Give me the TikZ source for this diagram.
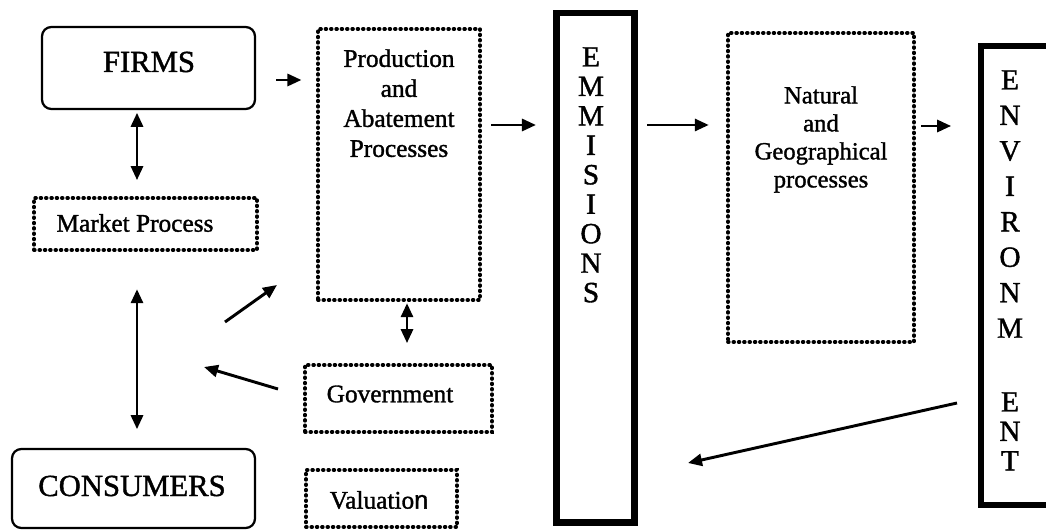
\documentclass[tikz,border=0pt]{standalone}
\usepackage{fontspec}
\setmainfont[FakeBold=1.3]{Liberation Serif}
\newfontfamily\sansn[FakeBold=1.3]{Liberation Sans}
\usetikzlibrary{arrows.meta,fit}
\begin{document}
\begin{tikzpicture}[x=0.75pt,y=-0.75pt,
  solidbox/.style={draw, line width=1.7pt, rounded corners=7pt, inner sep=0pt},
  dotbox/.style={draw, line width=2.8pt, dash pattern=on 0.6pt off 3.4pt, line cap=round, inner sep=0pt},
  thickbox/.style={draw, line width=4.8pt, inner sep=0pt},
  tip/.tip={Triangle[length=10.5pt,width=9pt]},
  conn/.style={line width=2.2pt, -tip},
  dconn/.style={line width=2.2pt, tip-tip},
  big/.style={font=\fontsize{23}{27}\selectfont, inner sep=0pt},
  mid/.style={font=\fontsize{19}{22.5}\selectfont, inner sep=0pt, align=center},
  small/.style={font=\fontsize{18.5}{21}\selectfont, inner sep=0pt, align=center},
  vert/.style={font=\fontsize{22}{22.1}\selectfont, inner sep=0pt, align=center, anchor=north}
]
\useasboundingbox (0,0) rectangle (1046,530);
\clip (0,0) rectangle (1046,530);

% boxes
\node[solidbox, fit={(42,27) (255,109)}] (firms) {};
\node[big] (firmstext) at (149,62) {FIRMS};
\node[dotbox, fit={(34,198) (257,250)}] (market) {};
\node[mid] (markettext) at (135,223) {Market Process};
\node[solidbox, fit={(12,449) (255,528)}] (cons) {};
\node[big] (constext) at (132,486) {CONSUMERS};
\node[dotbox, fit={(318,29) (480,300)}] (prod) {};
\node[mid, anchor=north] (prodtext) at (399,49) {Production\\and\\Abatement\\Processes};
\node[dotbox, fit={(305,365) (492,432)}] (gov) {};
\node[mid] (govtext) at (390,394) {Government};
\node[dotbox, fit={(306,470) (457,527)}] (val) {};
\node[mid] (valtext) at (379,500) {Valuatio{\sansn n}};
\node[thickbox, fit={(556.5,13) (634.5,522.5)}] (emm) {};
\node[vert] (emmtext) at (591,47) {E\\M\\M\\I\\S\\I\\O\\N\\S};
\node[dotbox, fit={(728,33) (914,342)}] (nat) {};
\node[small, anchor=north] (nattext) at (821,86) {Natural\\and\\Geographical\\processes};
\node[thickbox, fit={(981,46) (1075,505)}] (env) {};
\node[vert, font=\fontsize{22}{26.6}\selectfont] (envtext) at (1010,70) {E\\N\\V\\I\\R\\O\\N\\M};
\node[vert] (envtext2) at (1010,392) {E\\N\\T};

% helper coordinates
\coordinate (xa) at (137,0);
\coordinate (xg) at (407,0);
\coordinate (y1) at (0,80);
\coordinate (y2) at (0,125);
\coordinate (y3) at (0,126);
\coordinate (d1s) at (225,322);
\coordinate (d1e) at (277,285);
\coordinate (d2s) at (278,389);
\coordinate (d2e) at (204,367);
\coordinate (ls) at (957,403);
\coordinate (le) at (688,463);

% connectors
\draw[dconn, shorten <=2pt, shorten >=12pt] (firms.south -| xa) -- (market.north -| xa);
\draw[dconn, shorten <=28pt, shorten >=14pt] (market.south -| xa) -- (cons.north -| xa);
\draw[conn, shorten <=15pt, shorten >=11pt] (firms.east |- y1) -- (prod.west |- y1);
\draw[conn, shorten <=7pt, shorten >=13pt] (prod.east |- y2) -- (emm.west |- y2);
\draw[conn, shorten <=7pt, shorten >=13pt] (emm.east |- y2) -- (nat.west |- y2);
\draw[conn, shorten <=4pt, shorten >=20pt] (nat.east |- y3) -- (env.west |- y3);
\draw[dconn, shorten <=1pt, shorten >=15pt] (prod.south -| xg) -- (gov.north -| xg);
\draw[conn] (d1s) -- (d1e);
\draw[conn] (d2s) -- (d2e);
\draw[conn] (ls) -- (le);
\end{tikzpicture}
\end{document}
